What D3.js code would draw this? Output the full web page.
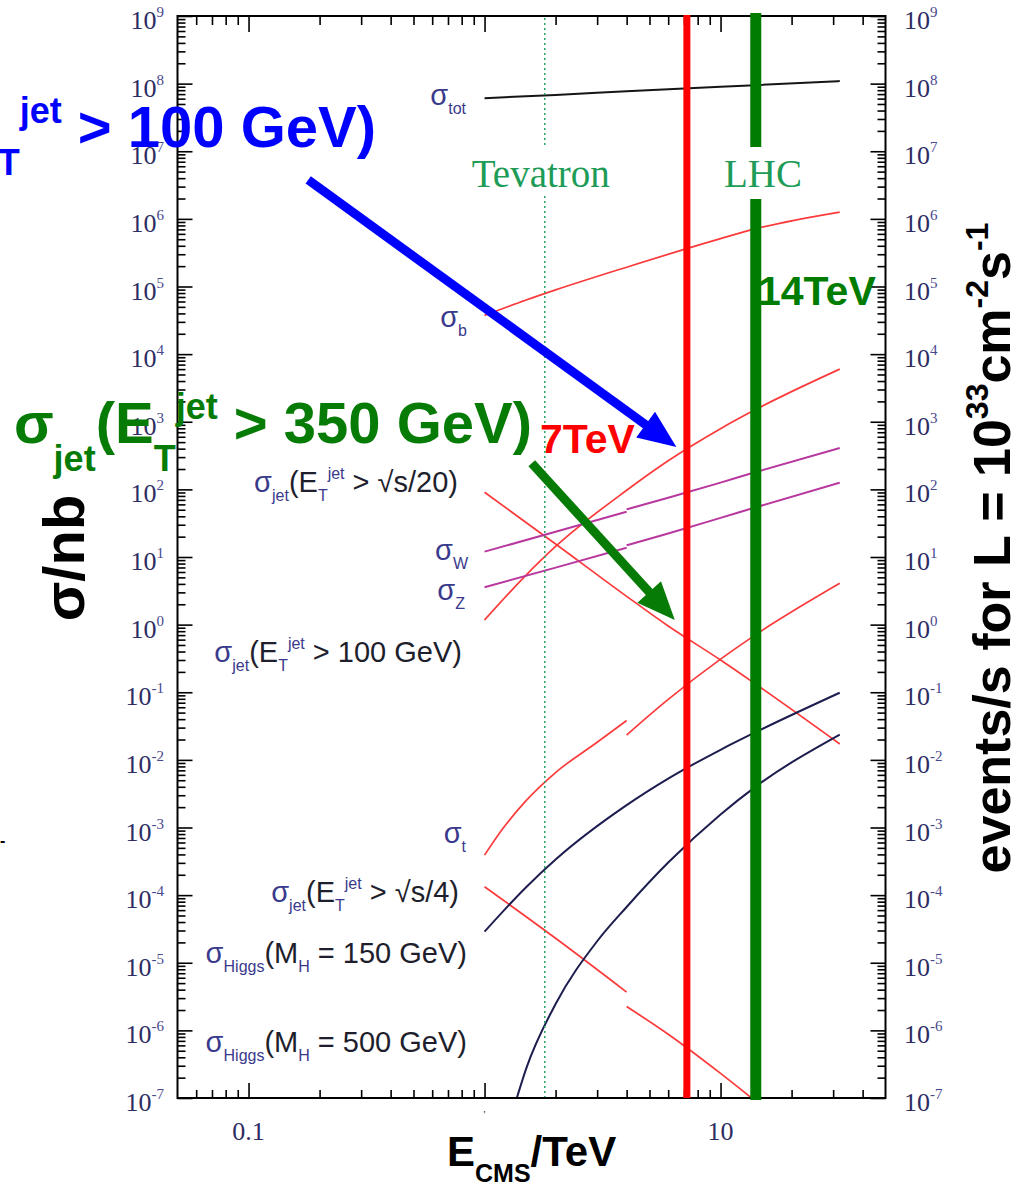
<!DOCTYPE html>
<html>
<head>
<meta charset="utf-8">
<script src="https://cdn.jsdelivr.net/npm/d3@7"></script>
<style>
  html, body { margin: 0; padding: 0; background: #fff; }
  svg { display: block; }
  text { white-space: pre; }
</style>
</head>
<body>
<div id="chart"></div>
<script>
// values: E in TeV, sigma in nb

var totE = [1, 2, 4, 10, 14, 32];
var totSigma = [6.1e7, 6.8e7, 7.7e7, 9.0e7, 9.5e7, 1.09e8];

var bE = [1, 1.5, 2, 4, 10, 14, 32];
var bSigma = [3.74e4, 6.3e4, 8.9e4, 1.93e5, 5.1e5, 7.1e5, 1.26e6];

var jet20E = [1, 2, 4, 6, 10, 14, 32];
var jet20Sigma = [90.6, 15.6, 2.62, 0.955, 0.30, 0.134, 0.0172];

var jet100E = [1, 1.5, 2, 4, 6, 10, 14, 32];
var jet100Sigma = [1.17, 5.4, 14.3, 97, 265, 790, 1500, 6000];

var wLowE = [1, 2, 4];
var wLowSigma = [12.0, 23.6, 46.8];
var wHighE = [4, 6, 10, 14, 32];
var wHighSigma = [50.7, 75, 126, 179, 409];

var zLowE = [1, 2, 4];
var zLowSigma = [3.56, 6.97, 13.7];
var zHighE = [4, 6, 10, 14, 32];
var zHighSigma = [14.9, 22.3, 37.9, 54, 126];

var topLowE = [1, 1.2, 1.5, 2, 3, 4];
var topLowSigma = [3.9e-4, 9.8e-4, 2.5e-3, 6.5e-3, 0.0182, 0.0382];
var topHighE = [4, 6, 10, 14, 32];
var topHighSigma = [0.0233, 0.0783, 0.309, 0.70, 4.08];

var jet4LowE = [1, 2, 4];
var jet4LowSigma = [1.33e-4, 2.30e-5, 3.68e-6];
var jet4HighE = [4, 6, 10, 14];
var jet4HighSigma = [2.25e-6, 8.77e-7, 2.31e-7, 9.1e-8];

var h150E = [1, 1.5, 2, 4, 6, 10, 14, 32];
var h150Sigma = [2.88e-5, 1.31e-4, 3.36e-4, 2.14e-3, 5.28e-3, 0.0141, 0.0254, 0.0984];

var h500E = [1.37, 1.5, 2, 3, 4, 6, 10, 14, 32];
var h500Sigma = [1.0e-7, 2.7e-7, 2.45e-6, 2.08e-5, 6.68e-5, 3.03e-4, 1.56e-3, 3.96e-3, 0.0237];

// collider energies (TeV)
var tevatronE = 1.8;
var lhc7E = 7.2;
var lhc14E = 14.1;

// axis ticks
var yExponents = d3.range(-7, 10);
var xTickValues = [0.1, 1, 10];
var xTickText = ["0.1", "'", "10"];

// arrows: [E, sigma] of tail and head
var blueArrow = [[0.179, 3.76e6], [6.5, 424]];
var greenArrow = [[1.585, 243], [6.4, 1.17]];


var W = 1020, H = 1184;
var RED = "#fb3b3b", MAG = "#b8389f", NAVY = "#1d1d4f";
var LABEL_DARK = "#1e1e2c", LABEL_BLUE = "#3a3a8c";

var svg = d3.select("#chart").append("svg")
  .attr("width", W)
  .attr("height", H);

var x = d3.scaleLog().domain([0.05, 50]).range([177.5, 885.5]);
var y = d3.scaleLog().domain([1e-7, 1e9]).range([1098, 16]);

var x0 = x.range()[0], x1 = x.range()[1];
var yTop = y.range()[1], yBot = y.range()[0];

svg.append("defs").append("clipPath").attr("id", "plotClip")
  .append("rect")
  .attr("x", x0).attr("y", yTop)
  .attr("width", x1 - x0).attr("height", yBot - yTop);

//curves
var curves = [
  { E: totE, s: totSigma, color: "#151515", w: 2 },
  { E: bE, s: bSigma, color: RED, w: 1.7 },
  { E: jet20E, s: jet20Sigma, color: RED, w: 1.7 },
  { E: jet100E, s: jet100Sigma, color: RED, w: 1.7 },
  { E: wLowE, s: wLowSigma, color: MAG, w: 2 },
  { E: wHighE, s: wHighSigma, color: MAG, w: 2 },
  { E: zLowE, s: zLowSigma, color: MAG, w: 2 },
  { E: zHighE, s: zHighSigma, color: MAG, w: 2 },
  { E: topLowE, s: topLowSigma, color: RED, w: 1.7 },
  { E: topHighE, s: topHighSigma, color: RED, w: 1.7 },
  { E: jet4LowE, s: jet4LowSigma, color: RED, w: 1.7 },
  { E: jet4HighE, s: jet4HighSigma, color: RED, w: 1.7 },
  { E: h150E, s: h150Sigma, color: NAVY, w: 2 },
  { E: h500E, s: h500Sigma, color: NAVY, w: 2 }
];

var line = d3.line()
  .x(function (d) { return x(d[0]); })
  .y(function (d) { return y(d[1]); })
  .curve(d3.curveMonotoneX);

svg.append("g").attr("clip-path", "url(#plotClip)")
  .selectAll("path")
  .data(curves)
  .enter()
  .append("path")
  .attr("d", function (c) { return line(d3.zip(c.E, c.s)); })
  .attr("fill", "none")
  .attr("stroke", function (c) { return c.color; })
  .attr("stroke-width", function (c) { return c.w; });

// Tevatron dotted line with a gap for its label
var gapTop = 147, gapBot = 196;
[[yTop + 2, gapTop], [gapBot, yBot]].forEach(function (seg) {
  svg.append("line")
    .attr("x1", x(tevatronE)).attr("x2", x(tevatronE))
    .attr("y1", seg[0]).attr("y2", seg[1])
    .attr("stroke", "#27a463")
    .attr("stroke-width", 1.5)
    .attr("stroke-dasharray", "2,3");
});

// axes: minor/major ticks pointing inward
function minors(domain) {
  var out = [];
  for (var p = -9; p <= 10; p++) {
    for (var k = 2; k <= 9; k++) {
      var v = k * Math.pow(10, p);
      if (v > domain[0] * 1.001 && v < domain[1] * 0.999) out.push(v);
    }
  }
  return out;
}
var xMinor = minors(x.domain());
var yMinor = minors(y.domain());
var yMajor = yExponents.map(function (p) { return Math.pow(10, p); });

function tickGroup(axis, tx, ty) {
  svg.append("g")
    .attr("transform", "translate(" + tx + "," + ty + ")")
    .call(axis)
    .call(function (g) {
      g.select(".domain").remove();
      g.selectAll("line").attr("stroke", "#000").attr("stroke-width", 1.6);
    });
}
tickGroup(d3.axisBottom(x).tickValues(xMinor).tickSize(-8).tickFormat(""), 0, yBot);
tickGroup(d3.axisBottom(x).tickValues(xTickValues).tickSize(-15).tickFormat(""), 0, yBot);
tickGroup(d3.axisTop(x).tickValues(xMinor).tickSize(-9).tickFormat(""), 0, yTop);
tickGroup(d3.axisTop(x).tickValues(xTickValues).tickSize(-16).tickFormat(""), 0, yTop);
tickGroup(d3.axisLeft(y).tickValues(yMinor).tickSize(-8).tickFormat(""), x0, 0);
tickGroup(d3.axisLeft(y).tickValues(yMajor).tickSize(-15).tickFormat(""), x0, 0);
tickGroup(d3.axisRight(y).tickValues(yMinor).tickSize(-8).tickFormat(""), x1, 0);
tickGroup(d3.axisRight(y).tickValues(yMajor).tickSize(-15).tickFormat(""), x1, 0);

svg.append("rect")
  .attr("x", x0).attr("y", yTop)
  .attr("width", x1 - x0).attr("height", yBot - yTop)
  .attr("fill", "none")
  .attr("stroke", "#000")
  .attr("stroke-width", 2);

// rich text helper: parts = [[text, kind, colour]], kind n | sub | sup
function rich(textSel, parts, o) {
  var off = 0;
  parts.forEach(function (p) {
    var kind = p[1] || "n";
    var target = kind === "sub" ? o.subDy : kind === "sup" ? o.supDy : 0;
    var t = textSel.append("tspan")
      .attr("dy", target - off)
      .attr("font-size", kind === "n" ? o.size : o.small)
      .text(p[0]);
    if (p[2]) t.attr("fill", p[2]);
    off = target;
  });
  return textSel;
}

// y tick labels, both sides
var tickFont = "'Liberation Serif', 'DejaVu Serif', serif";
yExponents.forEach(function (p) {
  var yy = y(Math.pow(10, p));
  [[164, "end"], [904, "start"]].forEach(function (side) {
    var t = svg.append("text")
      .attr("x", side[0]).attr("y", yy + 13)
      .attr("text-anchor", side[1])
      .attr("font-family", tickFont)
      .attr("fill", "#2c2c62");
    rich(t, [["10"], [String(p), "sup", "#48488e"]], { size: 26, small: 15, supDy: -12, subDy: 0 });
  });
});

// x tick labels
xTickValues.forEach(function (v, i) {
  svg.append("text")
    .attr("x", x(v)).attr("y", i === 1 ? 1118 : 1140)
    .attr("text-anchor", "middle")
    .attr("font-family", tickFont)
    .attr("font-size", i === 1 ? 11 : 26)
    .attr("fill", "#2c2c62")
    .text(xTickText[i]);
});

// curve labels
var sansFont = "'Liberation Sans', Arial, Helvetica, sans-serif";
var curveLabels = [
  { x: 466, y: 105, parts: [["σ", "n", LABEL_BLUE], ["tot", "sub", LABEL_BLUE]] },
  { x: 467, y: 327, parts: [["σ", "n", LABEL_BLUE], ["b", "sub", LABEL_BLUE]] },
  { x: 458, y: 492, parts: [["σ", "n", LABEL_BLUE], ["jet", "sub", LABEL_BLUE], ["(E"], ["T", "sub", LABEL_BLUE], ["jet", "sup", LABEL_BLUE], [" > √s/20)"]] },
  { x: 468, y: 560, parts: [["σ", "n", LABEL_BLUE], ["W", "sub", LABEL_BLUE]] },
  { x: 465, y: 600, parts: [["σ", "n", LABEL_BLUE], ["Z", "sub", LABEL_BLUE]] },
  { x: 462, y: 662, parts: [["σ", "n", LABEL_BLUE], ["jet", "sub", LABEL_BLUE], ["(E"], ["T", "sub", LABEL_BLUE], ["jet", "sup", LABEL_BLUE], [" > 100 GeV)"]] },
  { x: 466, y: 843, parts: [["σ", "n", LABEL_BLUE], ["t", "sub", LABEL_BLUE]] },
  { x: 459, y: 902, parts: [["σ", "n", LABEL_BLUE], ["jet", "sub", LABEL_BLUE], ["(E"], ["T", "sub", LABEL_BLUE], ["jet", "sup", LABEL_BLUE], [" > √s/4)"]] },
  { x: 467, y: 963, parts: [["σ", "n", LABEL_BLUE], ["Higgs", "sub", LABEL_BLUE], ["(M"], ["H", "sub", LABEL_BLUE], [" = 150 GeV)"]] },
  { x: 467, y: 1052, parts: [["σ", "n", LABEL_BLUE], ["Higgs", "sub", LABEL_BLUE], ["(M"], ["H", "sub", LABEL_BLUE], [" = 500 GeV)"]] }
];
curveLabels.forEach(function (l) {
  var t = svg.append("text")
    .attr("x", l.x).attr("y", l.y)
    .attr("text-anchor", "end")
    .attr("font-family", sansFont)
    .attr("fill", LABEL_DARK);
  rich(t, l.parts, { size: 29, small: 16, subDy: 9, supDy: -13 });
});

// Tevatron / LHC labels
svg.append("text")
  .attr("x", x(tevatronE) - 4).attr("y", 187)
  .attr("text-anchor", "middle")
  .attr("font-family", tickFont).attr("font-size", 39)
  .attr("fill", "#1d9c57")
  .text("Tevatron");
svg.append("text")
  .attr("x", 763).attr("y", 187)
  .attr("text-anchor", "middle")
  .attr("font-family", tickFont).attr("font-size", 39)
  .attr("fill", "#1d9c57")
  .text("LHC");

// 7 TeV and 14 TeV markers
svg.append("line")
  .attr("x1", x(lhc7E)).attr("x2", x(lhc7E))
  .attr("y1", yTop - 1).attr("y2", yBot)
  .attr("stroke", "#ff0000").attr("stroke-width", 7);
[[yTop - 3, gapTop], [gapBot + 3, yBot + 2]].forEach(function (seg) {
  svg.append("line")
    .attr("x1", x(lhc14E)).attr("x2", x(lhc14E))
    .attr("y1", seg[0]).attr("y2", seg[1])
    .attr("stroke", "#007c00").attr("stroke-width", 11);
});

var boldFont = "'Liberation Sans', Arial, Helvetica, sans-serif";
svg.append("text")
  .attr("x", 540).attr("y", 453)
  .attr("font-family", boldFont).attr("font-weight", "bold").attr("font-size", 41)
  .attr("fill", "#ff0000")
  .text("7TeV");
svg.append("text")
  .attr("x", 758).attr("y", 305)
  .attr("font-family", boldFont).attr("font-weight", "bold").attr("font-size", 41)
  .attr("fill", "#007c00")
  .text("14TeV");

// arrows
function arrow(pts, color) {
  var a = [x(pts[0][0]), y(pts[0][1])], b = [x(pts[1][0]), y(pts[1][1])];
  var dx = b[0] - a[0], dy = b[1] - a[1], len = Math.hypot(dx, dy);
  var ux = dx / len, uy = dy / len, head = 38, half = 16;
  var base = [b[0] - ux * head, b[1] - uy * head];
  svg.append("line")
    .attr("x1", a[0]).attr("y1", a[1])
    .attr("x2", base[0] + ux * 2).attr("y2", base[1] + uy * 2)
    .attr("stroke", color).attr("stroke-width", 9);
  svg.append("path")
    .attr("d", "M" + b + "L" + [base[0] - uy * half, base[1] + ux * half] + "L" + [base[0] + uy * half, base[1] - ux * half] + "Z")
    .attr("fill", color);
}
arrow(blueArrow, "#0000ff");
arrow(greenArrow, "#067c06");

// big annotations
var bigOpts = { size: 58, small: 36, subDy: 28, supDy: -24 };
rich(svg.append("text")
  .attr("x", 376).attr("y", 147)
  .attr("text-anchor", "end")
  .attr("font-family", boldFont).attr("font-weight", "bold")
  .attr("fill", "#0000ff"),
  [["σ"], ["jet", "sub"], ["(E"], ["T", "sub"], ["jet", "sup"], [" > 100 GeV)"]], bigOpts);
rich(svg.append("text")
  .attr("x", 532).attr("y", 443)
  .attr("text-anchor", "end")
  .attr("font-family", boldFont).attr("font-weight", "bold")
  .attr("fill", "#067c06"),
  [["σ"], ["jet", "sub"], ["(E"], ["T", "sub"], ["jet", "sup"], [" > 350 GeV)"]], bigOpts);

// axis titles
svg.append("text")
  .attr("transform", "translate(84,558) rotate(-90)")
  .attr("text-anchor", "middle")
  .attr("font-family", boldFont).attr("font-weight", "bold").attr("font-size", 58)
  .attr("fill", "#000")
  .text("σ/nb");

rich(svg.append("text")
  .attr("transform", "translate(1010,548) rotate(-90)")
  .attr("text-anchor", "middle")
  .attr("font-family", boldFont).attr("font-weight", "bold")
  .attr("fill", "#000"),
  [["events/s for L = 10"], ["33", "sup"], ["cm"], ["-2", "sup"], ["s"], ["-1", "sup"]],
  { size: 52, small: 32, subDy: 0, supDy: -22 });

rich(svg.append("text")
  .attr("x", 447).attr("y", 1166)
  .attr("font-family", boldFont).attr("font-weight", "bold")
  .attr("fill", "#000"),
  [["E"], ["CMS", "sub"], ["/TeV"]],
  { size: 42, small: 25, subDy: 16, supDy: 0 });

// stray mark at the left edge
svg.append("text")
  .attr("x", 0).attr("y", 846)
  .attr("font-family", boldFont).attr("font-weight", "bold").attr("font-size", 16)
  .attr("fill", "#000")
  .text("-");
</script>
</body>
</html>
